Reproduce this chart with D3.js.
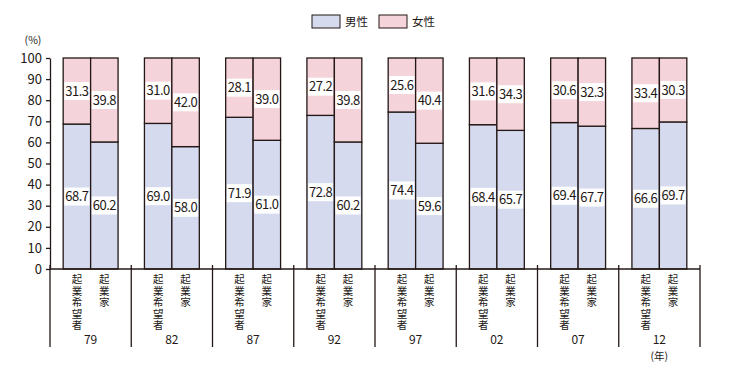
<!DOCTYPE html>
<html>
<head>
<meta charset="utf-8">
<script src="https://cdn.jsdelivr.net/npm/d3@7"></script>
<style>
  body { margin: 0; background: #fff; }
  text { font-family: "Noto Sans CJK JP", "Noto Sans", sans-serif; fill: #231815; }
</style>
</head>
<body>
<div id="chart"></div>
<script>
var years = ['79', '82', '87', '92', '97', '02', '07', '12'];
var types = ['起業希望者', '起業家'];
var series = ['男性', '女性'];
var hopeMale = [68.7, 69.0, 71.9, 72.8, 74.4, 68.4, 69.4, 66.6];
var hopeFemale = [31.3, 31.0, 28.1, 27.2, 25.6, 31.6, 30.6, 33.4];
var founderMale = [60.2, 58.0, 61.0, 60.2, 59.6, 65.7, 67.7, 69.7];
var founderFemale = [39.8, 42.0, 39.0, 39.8, 40.4, 34.3, 32.3, 30.3];
var yTicks = [0, 10, 20, 30, 40, 50, 60, 70, 80, 90, 100];

var width = 750, height = 365;
var plotLeft = 50, plotRight = 700, plotTop = 58, plotBottom = 269;
var colors = { '男性': '#d5daee', '女性': '#f5d3da' };
var ink = '#231815';

var svg = d3.select('#chart').append('svg')
  .attr('width', width)
  .attr('height', height);

var x0 = d3.scaleBand().domain(years).range([plotLeft, plotRight]).paddingInner(0).paddingOuter(0);
var x1 = d3.scaleBand().domain(types).range([0, x0.bandwidth()]).paddingInner(0).paddingOuter(0.48);
var y = d3.scaleLinear().domain([0, 100]).range([plotBottom, plotTop]);

// build rows from the arrays
var rows = [];
years.forEach(function (yr, i) {
  rows.push({ year: yr, type: types[0], male: hopeMale[i], female: hopeFemale[i] });
  rows.push({ year: yr, type: types[1], male: founderMale[i], female: founderFemale[i] });
});

var bars = svg.append('g').selectAll('g')
  .data(rows)
  .enter()
  .append('g')
  .attr('transform', function (d) { return 'translate(' + (x0(d.year) + x1(d.type)) + ',0)'; });

// male segment
bars.append('rect')
  .attr('x', 0)
  .attr('width', x1.bandwidth())
  .attr('y', function (d) { return y(d.male); })
  .attr('height', function (d) { return y(0) - y(d.male); })
  .attr('fill', colors['男性'])
  .attr('stroke', ink)
  .attr('stroke-width', 1.3);

// female segment
bars.append('rect')
  .attr('x', 0)
  .attr('width', x1.bandwidth())
  .attr('y', function (d) { return y(d.male + d.female); })
  .attr('height', function (d) { return y(d.male) - y(d.male + d.female); })
  .attr('fill', colors['女性'])
  .attr('stroke', ink)
  .attr('stroke-width', 1.3);

function addLabel(sel, valueFn, midFn) {
  var g = sel.append('g')
    .attr('transform', function (d) { return 'translate(' + (x1.bandwidth() / 2) + ',' + midFn(d) + ')'; });
  g.append('rect')
    .attr('x', -12.5)
    .attr('y', -9)
    .attr('width', 25)
    .attr('height', 18)
    .attr('fill', '#fff');
  g.append('text')
    .attr('text-anchor', 'middle')
    .attr('dy', '0.36em')
    .attr('font-size', 13)
    .attr('letter-spacing', -0.5)
    .text(function (d) { return valueFn(d).toFixed(1); });
}

addLabel(bars, function (d) { return d.male; }, function (d) { return (y(0) + y(d.male)) / 2; });
addLabel(bars, function (d) { return d.female; }, function (d) { return (y(d.male) + y(d.male + d.female)) / 2; });

// y axis
var yAxis = svg.append('g')
  .attr('transform', 'translate(' + plotLeft + ',0)')
  .call(d3.axisLeft(y).tickValues(yTicks).tickSize(4).tickSizeOuter(0).tickPadding(4));
yAxis.select('.domain').attr('stroke', ink).attr('stroke-width', 1.3);
yAxis.selectAll('.tick line').attr('stroke', ink).attr('stroke-width', 1.3);
yAxis.selectAll('.tick text')
  .attr('font-size', 13)
  .attr('font-family', '"Noto Sans CJK JP", sans-serif')
  .attr('fill', ink);

svg.append('text')
  .attr('x', 33)
  .attr('y', 44)
  .attr('text-anchor', 'middle')
  .attr('font-size', 10.5)
  .text('(%)');

// baseline
svg.append('line')
  .attr('x1', plotLeft).attr('x2', plotRight)
  .attr('y1', y(0)).attr('y2', y(0))
  .attr('stroke', ink).attr('stroke-width', 1.3);

// group separators
var bounds = years.map(function (yr) { return x0(yr); }).concat([plotRight]);
svg.append('g').selectAll('line')
  .data(bounds)
  .enter()
  .append('line')
  .attr('x1', function (d) { return d; })
  .attr('x2', function (d) { return d; })
  .attr('y1', y(0) - 4)
  .attr('y2', 347)
  .attr('stroke', ink)
  .attr('stroke-width', 1.3);

// vertical category labels, one character per text element
var catChars = [];
rows.forEach(function (d) {
  d.type.split('').forEach(function (ch, k) {
    catChars.push({ year: d.year, type: d.type, ch: ch, k: k });
  });
});
svg.append('g').selectAll('text')
  .data(catChars)
  .enter()
  .append('text')
  .attr('font-size', 10.5)
  .attr('text-anchor', 'middle')
  .attr('x', function (d) { return x0(d.year) + x1(d.type) + x1.bandwidth() / 2; })
  .attr('y', function (d) { return 283 + d.k * 11.5; })
  .text(function (d) { return d.ch; });

// year labels
svg.append('g').selectAll('text')
  .data(years)
  .enter()
  .append('text')
  .attr('x', function (d) { return x0(d) + x0.bandwidth() / 2; })
  .attr('y', 344)
  .attr('text-anchor', 'middle')
  .attr('font-size', 12)
  .text(function (d) { return d; });

svg.append('text')
  .attr('x', x0(years[years.length - 1]) + x0.bandwidth() / 2)
  .attr('y', 360)
  .attr('text-anchor', 'middle')
  .attr('font-size', 10.5)
  .text('(年)');

// legend
var legend = svg.append('g').selectAll('g')
  .data(series)
  .enter()
  .append('g')
  .attr('transform', function (d, i) { return 'translate(' + (312 + i * 67) + ',15)'; });
legend.append('rect')
  .attr('width', 28)
  .attr('height', 13)
  .attr('fill', function (d) { return colors[d]; })
  .attr('stroke', ink)
  .attr('stroke-width', 1);
legend.append('text')
  .attr('x', 33)
  .attr('y', 7)
  .attr('dy', '0.36em')
  .attr('font-size', 11.5)
  .text(function (d) { return d; });
</script>
</body>
</html>
